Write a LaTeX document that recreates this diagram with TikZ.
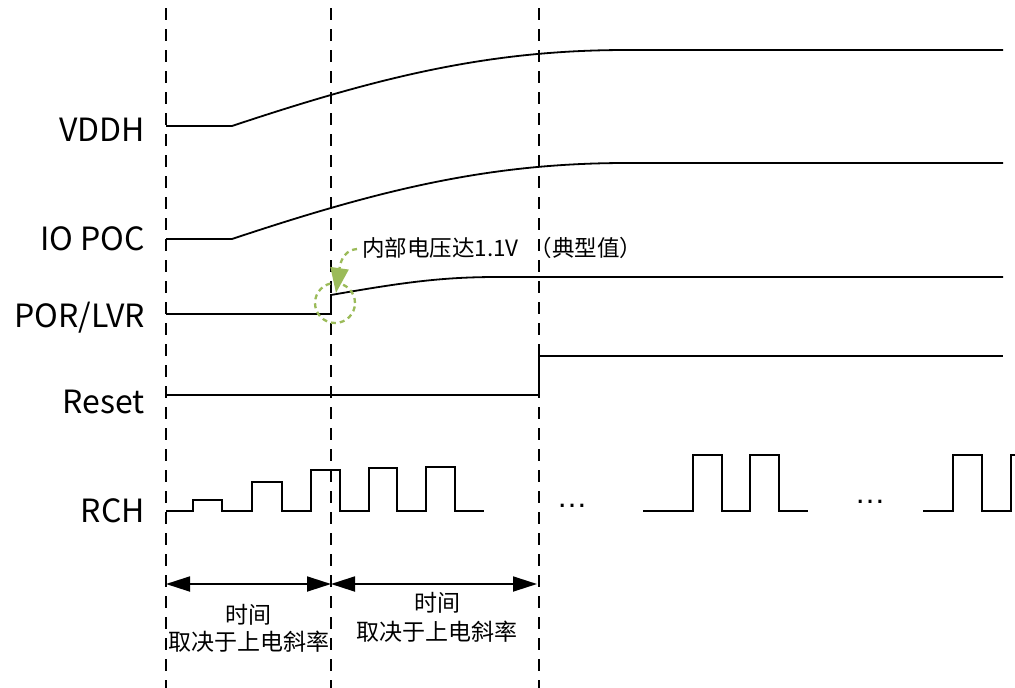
\documentclass[tikz,border=0pt]{standalone}
\usepackage{fontspec}
\setmainfont{Noto Sans CJK SC}
\newfontfamily\dotsfont{Liberation Sans}
\usetikzlibrary{arrows.meta}
\definecolor{anngreen}{HTML}{9BBB59}
\begin{document}
\begin{tikzpicture}[x=1pt,y=-1pt,
  sig/.style={line width=1.8pt, line join=miter},
  guide/.style={line width=1.7pt, dash pattern=on 12pt off 9pt},
  lbl/.style={anchor=base east, font=\fontsize{32}{32}\selectfont, inner sep=0pt},
  spanarrow/.style={line width=1.8pt, {Triangle[length=24pt,width=15pt]}-{Triangle[length=24pt,width=15pt]}},
  notetext/.style={font=\fontsize{23}{23}\selectfont, inner sep=0pt},
  anntext/.style={anchor=west, font=\fontsize{22.5}{22.5}\selectfont, inner sep=0pt},
  ellip/.style={font=\dotsfont\fontsize{31}{31}\selectfont, inner sep=0pt},
  annline/.style={anngreen, line width=2.3pt, dash pattern=on 5pt off 4pt}]
\useasboundingbox (0,0) rectangle (1015,688);
\fill[white] (0,0) rectangle (1015,688);
% guide lines
\coordinate (g1t) at (166,8);  \coordinate (g1b) at (166,688);
\coordinate (g2t) at (331,8);  \coordinate (g2b) at (331,688);
\coordinate (g3t) at (539,8);  \coordinate (g3b) at (539,688);
\draw[guide] (g1t) -- (g1b);
\draw[guide] (g2t) -- (g2b);
\draw[guide] (g3t) -- (g3b);
% labels
\node[lbl] (lvddh) at (145,141) {VDDH};
\node[lbl] (lpoc) at (145,250) {IO POC};
\node[lbl] (lpor) at (145,327) {POR/LVR};
\node[lbl] (lrst) at (145,413) {Reset};
\node[lbl] (lrch) at (145,522) {RCH};
% VDDH
\draw[sig] (166,126) -- (232,126) .. controls (382,76) and (490,50) .. (627,50) -- (1003,50);
% IO POC
\draw[sig] (166,239) -- (232,239) .. controls (382,189) and (490,163) .. (627,163) -- (1003,163);
% POR/LVR
\draw[sig] (166,314) -- (331,314) -- (331,295) .. controls (400,283) and (440,277) .. (497,277) -- (1003,277);
% Reset
\draw[sig] (166,395) -- (539,395) -- (539,356) -- (1003,356);
% RCH
\draw[sig] (166,511) -- (193,511) -- (193,500) -- (222,500) -- (222,511) -- (252,511) -- (252,482) -- (282,482) -- (282,511) -- (311,511) -- (311,470) -- (340,470) -- (340,511) -- (369,511) -- (369,468) -- (397,468) -- (397,511) -- (426,511) -- (426,467) -- (455,467) -- (455,511) -- (484,511);
\draw[sig] (643,511) -- (693,511) -- (693,455) -- (722,455) -- (722,511) -- (750,511) -- (750,455) -- (779,455) -- (779,511) -- (808,511);
\draw[sig] (923,511) -- (953,511) -- (953,455) -- (982,455) -- (982,511) -- (1011,511) -- (1011,455) -- (1015,455);
\node[ellip] (dots1) at (572,506) {…};
\node[ellip] (dots2) at (870,502) {…};
% annotation
\node[anntext] (ann) at (362,248) {内部电压达1.1V\hspace{11pt}（典型值）};
\coordinate (circc) at (335,303);
\draw[annline] (circc) circle[radius=20pt];
\coordinate (annstart) at (357,249);
\coordinate (anntip) at (336,293);
\draw[annline, -{Triangle[length=25pt,width=18pt]}] (annstart) .. controls (346,250) and (341,258) .. (anntip);
% spans
\coordinate (s1) at (166,584);
\coordinate (s2) at (331,584);
\coordinate (s3) at (537,584);
\draw[spanarrow] (s1) -- (s2);
\draw[spanarrow] (s2) -- (s3);
\node[notetext] (t1a) at (248,615) {时间};
\node[notetext] (t1b) at (249,642) {取决于上电斜率};
\node[notetext] (t2a) at (437,603) {时间};
\node[notetext] (t2b) at (437,632) {取决于上电斜率};
\end{tikzpicture}
\end{document}
